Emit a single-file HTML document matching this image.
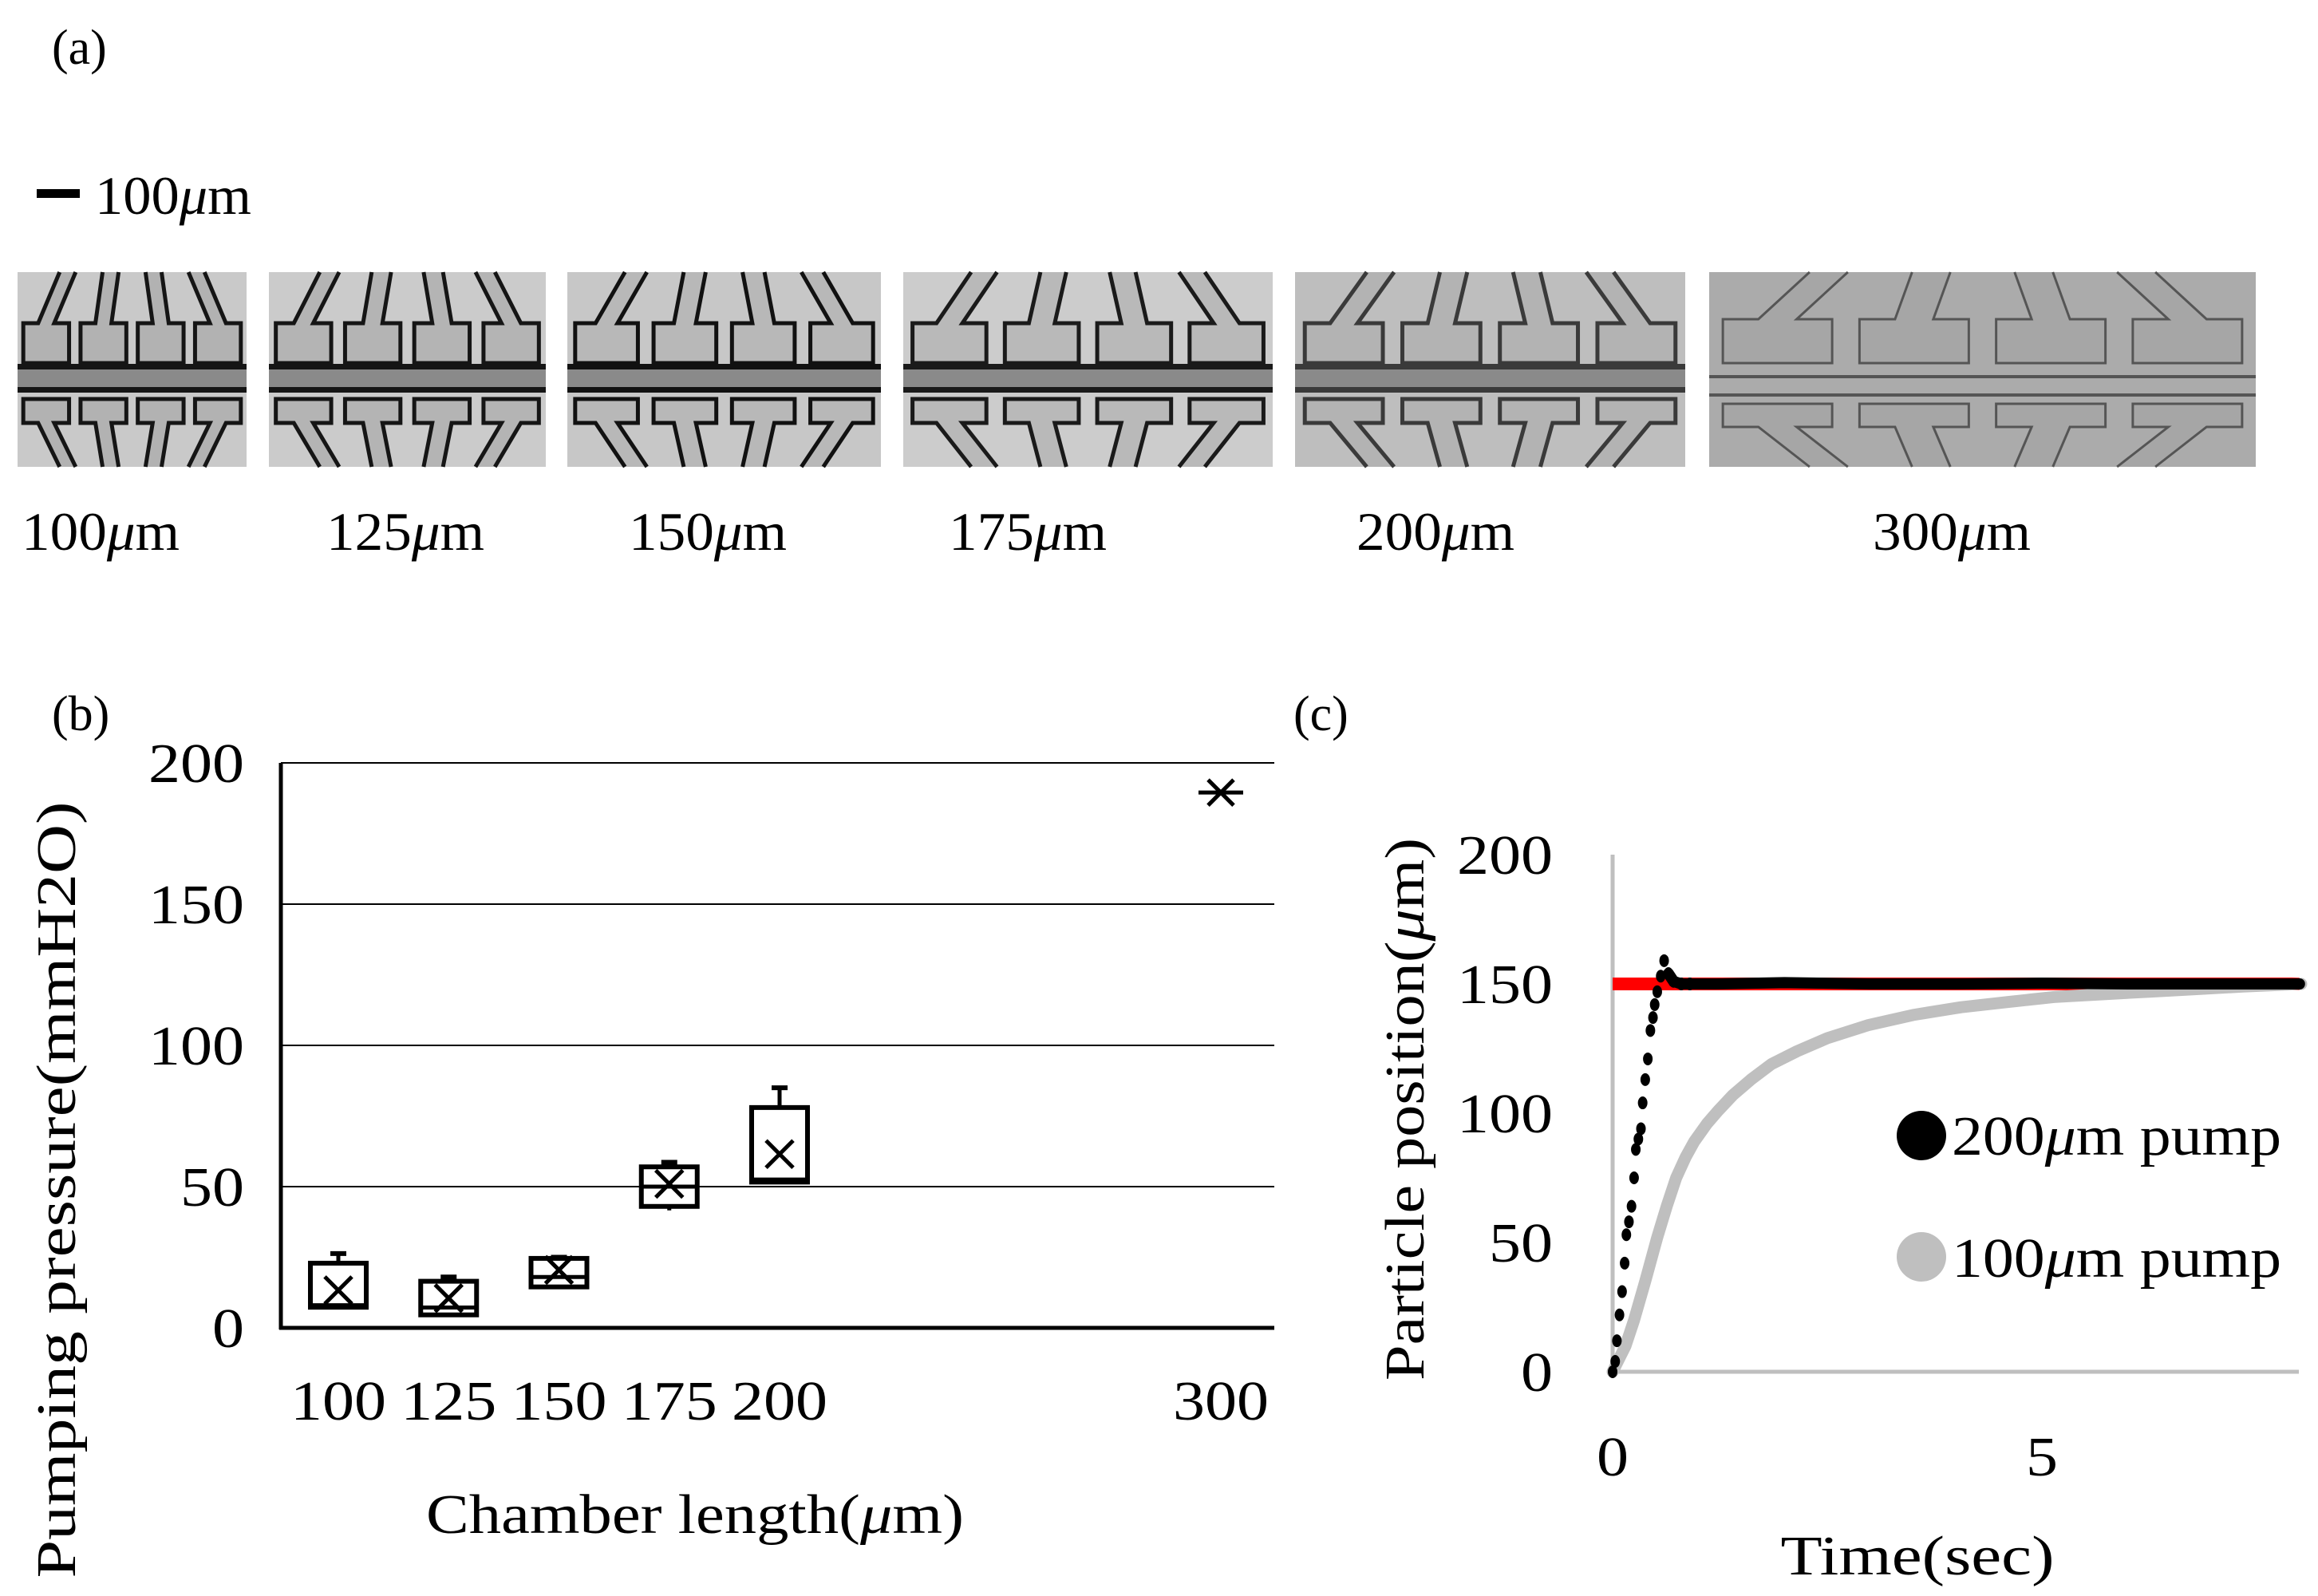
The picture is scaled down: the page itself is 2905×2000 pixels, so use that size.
<!DOCTYPE html>
<html><head><meta charset="utf-8">
<style>
html,body{margin:0;padding:0;background:#fff;}
svg{display:block;font-family:"Liberation Serif","Noto Serif CJK SC",serif;}
</style></head>
<body>
<svg id="fig" width="2905" height="2000" viewBox="0 0 2905 2000" xmlns="http://www.w3.org/2000/svg">
<text x="65" y="80" font-size="62">(a)</text>
<rect x="46" y="237" width="54" height="11" fill="#000"/>
<text x="119" y="268" font-size="68" textLength="196" lengthAdjust="spacingAndGlyphs">100<tspan font-style="italic">μ</tspan>m</text>
<g id="imgs"></g>
<text x="65" y="915" font-size="62">(b)</text>
<text x="1621" y="915" font-size="62">(c)</text>
<g id="chartB"></g>
<g id="chartC"></g>
</svg>
<script>
// ---- Panel B data ----
const bCategories = [100, 125, 150, 175, 200];
const bMin = [7, 4, 14, 41.6, 51];
const bQ1 = [7.3, 4.6, 14.5, 43, 51.6];
const bMedian = [8, 7.2, 18, 50, 52.5];
const bQ3 = [22.9, 16.5, 24.6, 57, 78];
const bMax = [26.3, 18, 25, 58.6, 85];
const bMean = [13.3, 10.5, 20.5, 51, 61.5];
const bSingleCat = [300];
const bSingleVal = [189.5];
const bYTicks = [0, 50, 100, 150, 200];
const bXLabels = [100, 125, 150, 175, 200, 300];
// ---- Panel C data ----
const blackT = [0, 0.03, 0.05, 0.08, 0.11, 0.14, 0.16, 0.19, 0.22, 0.25, 0.27, 0.3, 0.33, 0.35, 0.38, 0.41, 0.44, 0.47, 0.49, 0.52, 0.56, 0.6, 0.65, 0.71, 0.8, 0.9, 1.2, 2, 3, 4, 5, 6, 7, 8];
const blackV = [0, 4, 12, 22, 31, 42, 53, 58, 64, 75, 86, 90, 94, 104, 113, 121, 132, 137, 142, 147, 153, 159, 154, 151, 150, 150, 150, 150.5, 150, 150, 150.3, 150, 150, 150];
const grayT = [0, 0.03, 0.15, 0.25, 0.38, 0.52, 0.63, 0.74, 0.85, 0.95, 1.1, 1.23, 1.4, 1.61, 1.85, 2.15, 2.5, 2.97, 3.5, 4.06, 4.6, 5.16, 5.7, 6.25, 6.8, 7.34, 8.02];
const grayV = [0, 2, 10, 20, 35, 52, 64, 75, 83, 89, 96, 101, 107, 113, 119, 124, 129, 134, 138, 141, 143, 145, 146, 147, 148, 149, 150];
const targetT = [0, 8];
const targetV = [150, 150];
const cYTicks = [0, 50, 100, 150, 200];
const cXTicks = [0, 5];

const NS = "http://www.w3.org/2000/svg";
function mk(tag, attrs, parent, txt){const e=document.createElementNS(NS,tag);for(const k in attrs)e.setAttribute(k,attrs[k]);if(txt!==undefined)e.textContent=txt;parent.appendChild(e);return e;}
function tl(s){return String(s).length*40;}

// ---- micrographs ----
const imgG = document.getElementById('imgs');
const imgRects = [[22,309],[337,684],[711,1104],[1132,1595],[1623,2112],[2142,2827]];
const imgLabels = ['100','125','150','175','200','300'];
const imgCenters = [126,508,887,1288,1799,2446];
const imgStyles = [['#c9c9c9','#b2b2b2','#151515'],['#cbcbcb','#b4b4b4','#151515'],['#c7c7c7','#b8b8b8','#111'],['#cccccc','#b9b9b9','#1a1a1a'],['#bebebe','#b3b3b3','#3a3a3a'],['#ababab','#a6a6a6','#555']];
imgRects.forEach((r,i)=>{
  const [x0,x1]=r, w=x1-x0, y0=341, y1=585, st=imgStyles[i];
  const g=mk('g',{},imgG);
  
  
  mk('rect',{x:x0,y:y0,width:w,height:y1-y0,fill:st[0]},g);
  const n=4, cw=w/n;
  const big = i===5;
  const chTop = big?476:462, chBot = big?500:492;
  for(let k=0;k<n;k++){
    const cx=x0+cw*k+cw/2, bw=cw*0.8;
    const stem=cw*0.28;
    mk('path',{d:`M${cx-stem/2-(k-1.5)*cw*0.25},${y0} L${cx-stem/2},${big?400:405} L${cx-bw/2},${big?400:405} L${cx-bw/2},455 L${cx+bw/2},455 L${cx+bw/2},${big?400:405} L${cx+stem/2},${big?400:405} L${cx+stem/2-(k-1.5)*cw*0.25},${y0}`,fill:st[1],stroke:st[2],'stroke-width':big?3:5},g);
    mk('path',{d:`M${cx-stem/2-(k-1.5)*cw*0.25},${y1} L${cx-stem/2},${big?535:530} L${cx-bw/2},${big?535:530} L${cx-bw/2},${big?506:500} L${cx+bw/2},${big?506:500} L${cx+bw/2},${big?535:530} L${cx+stem/2},${big?535:530} L${cx+stem/2-(k-1.5)*cw*0.25},${y1}`,fill:st[1],stroke:st[2],'stroke-width':big?3:5},g);
  }
  mk('rect',{x:x0,y:chTop-6,width:w,height:big?4:7,fill:st[2]},g);
  mk('rect',{x:x0,y:chTop+1,width:w,height:chBot-chTop-8,fill:big?st[0]:'#8a8a8a'},g);
  mk('rect',{x:x0,y:chBot-7,width:w,height:big?4:7,fill:st[2]},g);
  const t=mk('text',{x:imgCenters[i],y:689,'font-size':68,'text-anchor':'middle',textLength:198,lengthAdjust:'spacingAndGlyphs'},imgG);
  
  
  t.innerHTML=imgLabels[i]+'<tspan font-style="italic">μ</tspan>m';
});

// ---- Panel B ----
const B = document.getElementById('chartB');
const bx = v => 424 + (v-100)*5.53;
const by = v => 1664 - v*3.54;
const bL=352, bR=1597;
bYTicks.forEach(v=>{
  if(v>0){const l=mk('line',{x1:bL,x2:bR,y1:by(v),y2:by(v),stroke:'#000','stroke-width':2},B);
  
  }
  const t=mk('text',{x:306,y:by(v)+24,'font-size':70,'text-anchor':'end',textLength:tl(v),lengthAdjust:'spacingAndGlyphs'},B,String(v));
  
  
});
const ax1=mk('line',{x1:bL,x2:bL,y1:by(200),y2:by(0)+2,stroke:'#000','stroke-width':5},B);


const ax2=mk('line',{x1:bL-2,x2:bR,y1:by(0),y2:by(0),stroke:'#000','stroke-width':5},B);


const bw=70;
bCategories.forEach((c,i)=>{
  const g=mk('g',{},B);
  
  
  const cx=bx(c);
  mk('line',{x1:cx,x2:cx,y1:by(bMax[i]),y2:by(bQ3[i]),stroke:'#000','stroke-width':5},g);
  mk('line',{x1:cx-10,x2:cx+10,y1:by(bMax[i]),y2:by(bMax[i]),stroke:'#000','stroke-width':6},g);
  mk('line',{x1:cx,x2:cx,y1:by(bMin[i]),y2:by(bQ1[i]),stroke:'#000','stroke-width':5},g);
  mk('rect',{x:cx-bw/2,y:by(bQ3[i]),width:bw,height:by(bQ1[i])-by(bQ3[i]),fill:'#fff',stroke:'#000','stroke-width':6},g);
  mk('line',{x1:cx-bw/2,x2:cx+bw/2,y1:by(bMedian[i]),y2:by(bMedian[i]),stroke:'#000','stroke-width':5},g);
  const m=by(bMean[i]), s=17;
  mk('path',{d:`M${cx-s},${m-s} L${cx+s},${m+s} M${cx+s},${m-s} L${cx-s},${m+s}`,stroke:'#000','stroke-width':5},g);
});
bSingleCat.forEach((c,i)=>{
  const cx=bx(c), m=by(bSingleVal[i]), s=16;
  const p=mk('path',{d:`M${cx-s},${m-s} L${cx+s},${m+s} M${cx+s},${m-s} L${cx-s},${m+s} M${cx-28},${m} L${cx+28},${m}`,stroke:'#000','stroke-width':5},B);
  
  
});
bXLabels.forEach(c=>{
  const t=mk('text',{x:bx(c),y:1779,'font-size':70,'text-anchor':'middle',textLength:120,lengthAdjust:'spacingAndGlyphs'},B,String(c));
  
  
});
const byt=mk('text',{x:0,y:0,'font-size':70,'text-anchor':'middle',textLength:973,lengthAdjust:'spacingAndGlyphs',transform:'translate(94,1491) rotate(-90)'},B,'Pumping pressure(mmH2O)');


const bxt=mk('text',{x:871,y:1921,'font-size':70,'text-anchor':'middle',textLength:674,lengthAdjust:'spacingAndGlyphs'},B);
bxt.innerHTML='Chamber length(<tspan font-style="italic">μ</tspan>m)';



// ---- Panel C ----
const C=document.getElementById('chartC');
const cx_=t=>2021+t*107.6;
const cy_=v=>1719-v*3.24;
const cyax=mk('line',{x1:cx_(0),x2:cx_(0),y1:cy_(200),y2:cy_(0),stroke:'#bfbfbf','stroke-width':5},C);


const cxax=mk('line',{x1:cx_(0),x2:2881,y1:cy_(0),y2:cy_(0),stroke:'#bfbfbf','stroke-width':5},C);


cYTicks.forEach(v=>{
  const t=mk('text',{x:1946,y:cy_(v)+24,'font-size':70,'text-anchor':'end',textLength:tl(v),lengthAdjust:'spacingAndGlyphs'},C,String(v));
  
  
});
cXTicks.forEach(v=>{
  const t=mk('text',{x:cx_(v),y:1849,'font-size':70,'text-anchor':'middle',textLength:tl(v),lengthAdjust:'spacingAndGlyphs'},C,String(v));
  
  
});
const tgt=mk('line',{x1:cx_(targetT[0]),x2:cx_(targetT[1]),y1:cy_(targetV[0]),y2:cy_(targetV[1]),stroke:'#ff0000','stroke-width':16},C);


const gp=mk('polyline',{points:grayT.map((t,i)=>cx_(t)+','+cy_(grayV[i])).join(' '),fill:'none',stroke:'#bfbfbf','stroke-width':15,'stroke-linejoin':'round','stroke-linecap':'round'},C);


const bg=mk('g',{},C);


blackT.forEach((t,i)=>{
  if(t<=0.9) mk('ellipse',{cx:cx_(t),cy:cy_(blackV[i]),rx:6,ry:8,fill:'#000'},bg);
});
const settle=blackT.map((t,i)=>[t,blackV[i]]).filter(p=>p[0]>=0.65);
mk('polyline',{points:settle.map(p=>cx_(p[0])+','+cy_(p[1])).join(' '),fill:'none',stroke:'#000','stroke-width':14,'stroke-linecap':'round'},bg);
const lg1=mk('circle',{cx:2408,cy:1423,r:31,fill:'#000'},C);


const lt1=mk('text',{x:2446,y:1447,'font-size':70,textLength:413,lengthAdjust:'spacingAndGlyphs'},C);
lt1.innerHTML='200<tspan font-style="italic">μ</tspan>m pump';


const lg2=mk('circle',{cx:2408,cy:1575,r:31,fill:'#bfbfbf'},C);


const lt2=mk('text',{x:2446,y:1600,'font-size':70,textLength:413,lengthAdjust:'spacingAndGlyphs'},C);
lt2.innerHTML='100<tspan font-style="italic">μ</tspan>m pump';


const cyt=mk('text',{x:0,y:0,'font-size':70,'text-anchor':'middle',textLength:680,lengthAdjust:'spacingAndGlyphs',transform:'translate(1784,1390) rotate(-90)'},C);
cyt.innerHTML='Particle position(<tspan font-style="italic">μ</tspan>m)';


const cxt=mk('text',{x:2403,y:1973,'font-size':70,'text-anchor':'middle',textLength:343,lengthAdjust:'spacingAndGlyphs'},C,'Time(sec)');


</script>
</body></html>
